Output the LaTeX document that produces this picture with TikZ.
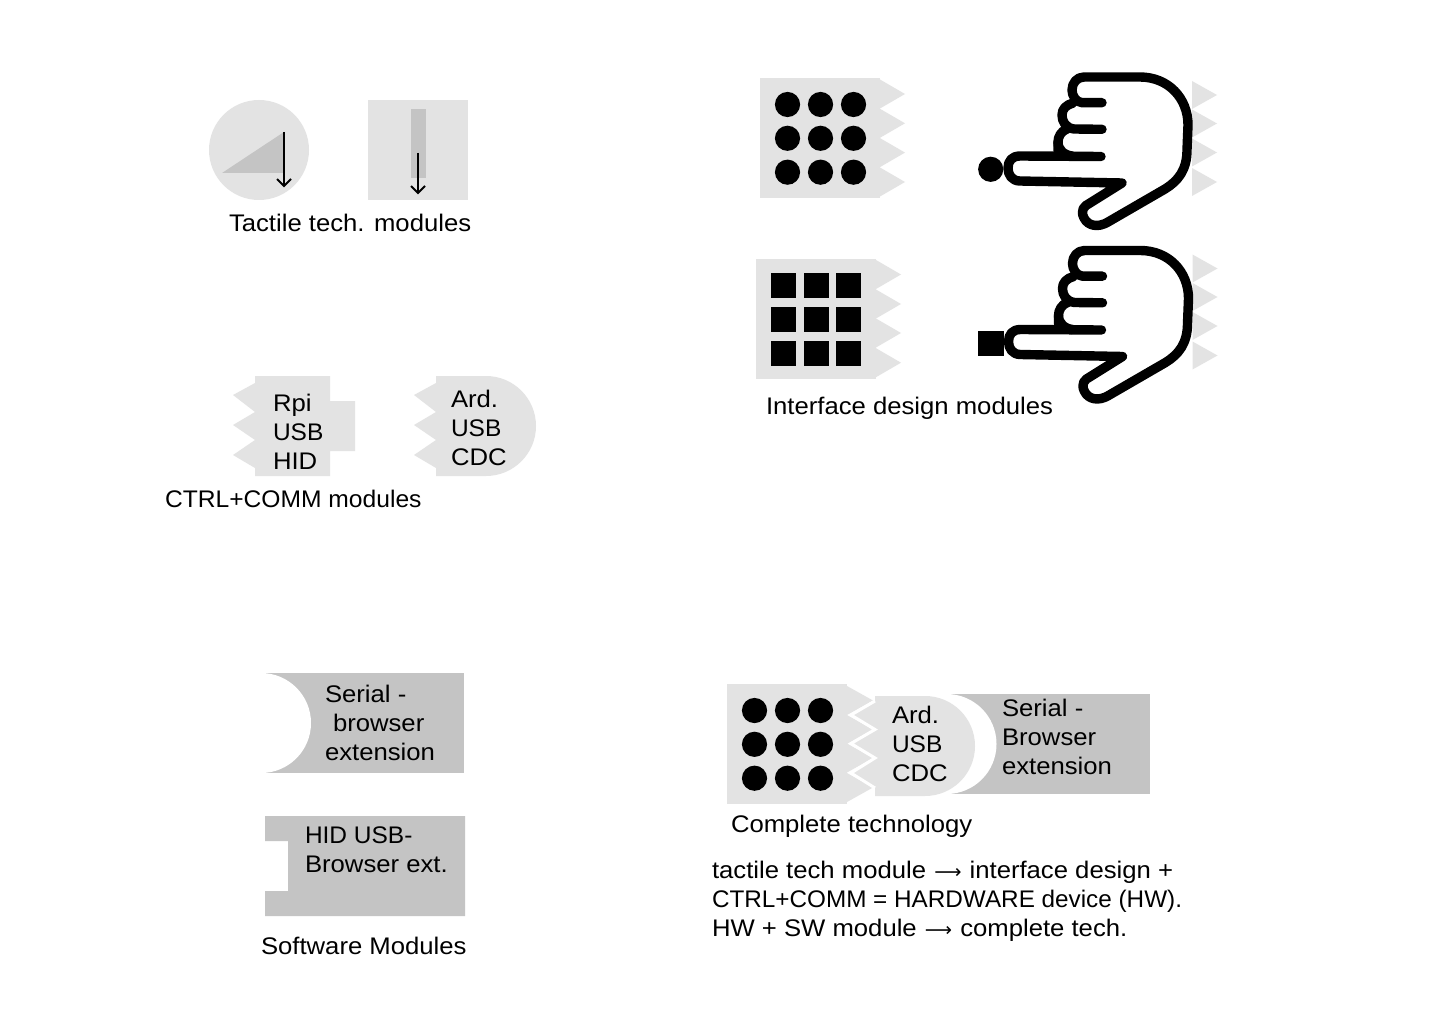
\documentclass[tikz,border=0pt]{standalone}
\usepackage{fontspec}
\setmainfont[FakeStretch=1.07]{Liberation Sans}
\newfontfamily\capsfont[FakeStretch=1.02]{Liberation Sans}
\newfontfamily\arrowfont{DejaVu Sans}
\newcommand{\longarr}{\hspace*{1pt}{\fontsize{19}{29}\arrowfont ⟶}\hspace*{1pt}}
\definecolor{lg}{HTML}{E3E3E3}
\definecolor{mg}{HTML}{C4C4C4}
\begin{document}
\begin{tikzpicture}[x=1pt,y=-1pt,
  lightfill/.style={fill=lg,draw=none},
  midfill/.style={fill=mg,draw=none},
  blackfill/.style={fill=black,draw=none},
  txt/.style={inner sep=0pt,outer sep=0pt,anchor=base west,align=left,font=\fontsize{24}{29}\selectfont},
  ptr/.style={draw=black,line width=1.8pt},
  handline/.style={draw=black,line width=9.4pt,line cap=round,line join=round},
]
\useasboundingbox[fill=white] (0,0) rectangle (1440,1024);

% Tactile tech modules
\fill[lightfill] (259,150) circle[radius=50];
\fill[midfill] (222,173) -- (284,132) -- (284,173) -- cycle;
\coordinate (a1s) at (284,132); \coordinate (a1e) at (284,186);
\draw[ptr] (a1s) -- (a1e);
\draw[ptr] (277,179) -- (a1e) -- (291,179);
\fill[lightfill] (368,100) rectangle (468,200);
\fill[midfill] (411,109) rectangle (426,178);
\coordinate (a2s) at (418,153); \coordinate (a2e) at (418,193);
\draw[ptr] (a2s) -- (a2e);
\draw[ptr] (411,186) -- (a2e) -- (425,186);
\node[txt] (t1) at (229,232) {Tactile tech. modules};

% Interface module 1
\fill[lightfill] (760,78) rectangle (880,198);
\foreach \y in {94,123.3,152.6,182}{
  \fill[lightfill] (880,\y-14.5) -- (905,\y) -- (880,\y+14.5) -- cycle;
}
\foreach \x in {787.5,820.5,853.5}\foreach \y in {104.5,138.3,172.2}{
  \fill[blackfill] (\x,\y) circle[radius=12.6];
}
% Interface module 2
\fill[lightfill] (756,259) rectangle (876,379);
\foreach \y in {274.5,304,333,362.7}{
  \fill[lightfill] (876,\y-14.5) -- (901,\y) -- (876,\y+14.5) -- cycle;
}
\foreach \x in {771,804,836}\foreach \y in {273,307,341}{
  \fill[blackfill] (\x,\y) rectangle ++(25,25);
}

% Hands
\newcommand{\handshape}{%
  \draw[handline] (1102,102.7) -- (1082,102.7) .. controls (1076,102) and (1072,96) .. (1072,90)
     .. controls (1072,83) and (1077,77) .. (1084,77) -- (1140,77)
     .. controls (1168,77) and (1188,98) .. (1188,125) -- (1187,150)
     .. controls (1187,170) and (1178,181) .. (1165,189) -- (1108,222)
     .. controls (1098,228) and (1088,226) .. (1084,218)
     .. controls (1080,210) and (1084,206) .. (1090,203) -- (1122,183) -- (1020,181)
     .. controls (1012,181) and (1008,175) .. (1008,168)
     .. controls (1008,161) and (1012,156) .. (1020,156) -- (1101,156.5);
  \draw[handline] (1073,103) .. controls (1066,105) and (1062,109) .. (1062,115)
     .. controls (1062,122) and (1066,128) .. (1074,129) -- (1102,129.3);
  \draw[handline] (1067,129) .. controls (1061,131) and (1058,137) .. (1058,142)
     -- (1058,152);
  \draw[handline] (1058,142) .. controls (1058,150) and (1064,155) .. (1072,156);
}
\begin{scope}
\foreach \y in {95,123.5,152.5,182}{
  \fill[lightfill] (1192,\y-14) -- (1217,\y) -- (1192,\y+14) -- cycle;
}
\handshape
\fill[blackfill] (990.7,169.3) circle[radius=12.6];
\end{scope}
\begin{scope}[xshift=0.5pt,yshift=-173.5pt]
\foreach \y in {95,123.5,152.5,182}{
  \fill[lightfill] (1192,\y-14) -- (1217,\y) -- (1192,\y+14) -- cycle;
}
\handshape
\end{scope}
\fill[blackfill] (978,331) rectangle (1003.5,356);
\node[txt] (t2) at (766,414) {Interface design modules};

% CTRL+COMM
\fill[lightfill] (255,376) -- (330,376) -- (330,401) -- (355,401) -- (355,451) -- (330,451) -- (330,476) -- (255,476)
  -- (255,468) -- (233,455) -- (255,440) -- (233,425) -- (255,412) -- (233,395) -- (255,383) -- cycle;
\node[txt] (t3) at (273,469) {Rpi\\\capsfont USB\\HID};
\fill[lightfill] (436,376) -- (486,376) .. controls (513.6,376) and (536,398.4) .. (536,426)
  .. controls (536,453.6) and (513.6,476) .. (486,476) -- (436,476)
  -- (436,468) -- (414,455) -- (436,440) -- (414,425) -- (436,412) -- (414,395) -- (436,383) -- cycle;
\node[txt] (t4) at (451,465) {Ard.\\\capsfont USB\\CDC};
\node[txt] (t5) at (165,507) {\fontspec[FakeStretch=1.026]{Liberation Sans}CTRL+COMM modules};

% Software
\fill[midfill] (265,673) rectangle (464,773);
\begin{scope}
\clip (265,670) rectangle (320,776);
\fill[white] (261,723) circle[radius=50];
\end{scope}
\node[txt] (t6) at (325,760) {Serial -\\\hspace*{8pt}browser\\extension};
\fill[midfill] (265,816) -- (465,816) -- (465,916) -- (265,916) -- (265,891) -- (288,891) -- (288,841) -- (265,841) -- cycle;
\node[txt] (t7) at (305,872) {{\capsfont HID USB-}\\Browser ext.};
\node[txt] (t8) at (261,954) {Software Modules};

% Complete technology
\fill[midfill] (950,694) rectangle (1150,794);
\begin{scope}
\clip (950,690) rectangle (1000,798);
\fill[white] (946.5,744) circle[radius=50];
\end{scope}
\node[txt] (t9) at (1002,774) {Serial -\\Browser\\extension};
\fill[lightfill] (727,684) rectangle (847,804);
\foreach \y in {700.5,729.5,758,787.5}{
  \fill[lightfill] (847,\y-14.5) -- (873,\y) -- (847,\y+14.5) -- cycle;
}
\foreach \x in {754.5,787.5,820.5}\foreach \y in {710.5,744.3,778.2}{
  \fill[blackfill] (\x,\y) circle[radius=12.6];
}
\fill[lightfill] (875,696) -- (925,696) .. controls (952.6,696) and (975,718.4) .. (975,746)
  .. controls (975,773.6) and (952.6,796) .. (925,796) -- (875,796)
  -- (875,788) -- (851,773) -- (875,758) -- (851,743.5) -- (875,729.5) -- (851,715) -- (875,701) -- cycle;
\draw[white,line width=3pt] (875,701) -- (851,715) -- (875,729.5) -- (851,743.5) -- (875,758) -- (851,773) -- (875,788);
\node[txt] (t10) at (892,781) {Ard.\\\capsfont USB\\CDC};
\node[txt] (t11) at (731,832) {Complete technology};
\node[txt] (t12) at (712,936) {tactile tech module \longarr{} interface design +\\{\fontspec[FakeStretch=1.012]{Liberation Sans}CTRL+COMM = HARDWARE device (HW).}\\HW + SW module \longarr{} complete tech.};
\end{tikzpicture}
\end{document}
